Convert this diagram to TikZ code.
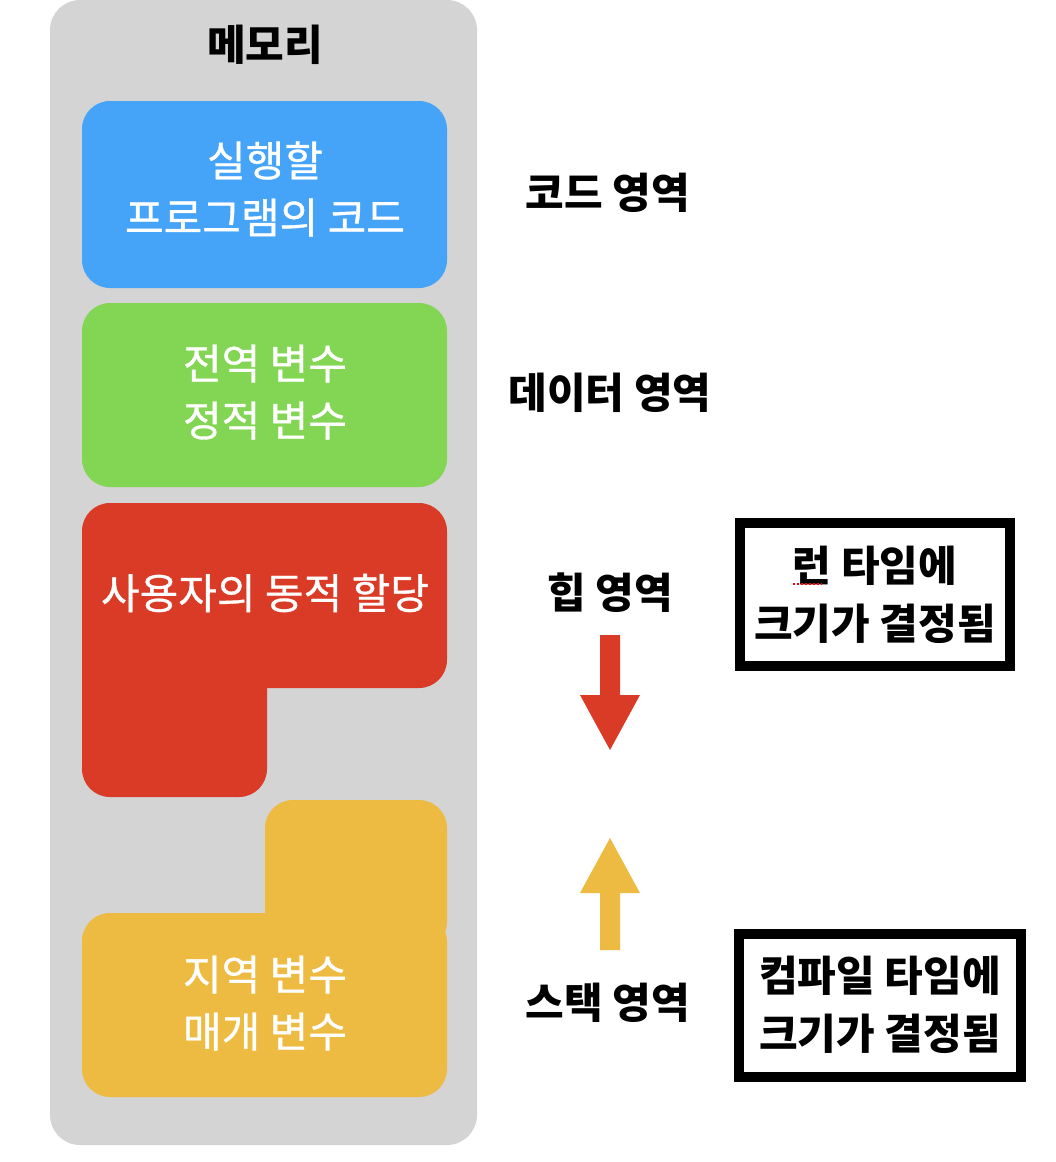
\documentclass[tikz,border=0pt]{standalone}
\usepackage{fontspec}
\setmainfont{Noto Sans CJK KR}
\newfontfamily\medfont[FakeBold=0.8]{Noto Sans CJK KR}
\usetikzlibrary{arrows.meta}
\definecolor{memgray}{HTML}{D4D4D4}
\definecolor{codeblue}{HTML}{45A3F8}
\definecolor{datagreen}{HTML}{83D554}
\definecolor{heapred}{HTML}{DA3B26}
\definecolor{stackyellow}{HTML}{EEBB42}
\tikzset{
  seg/.style={rounded corners=28pt},
  intext/.style={text=white, font=\medfont\fontsize{42}{57}\selectfont, align=center},
  lbl/.style={font=\fontsize{42}{50}\selectfont\bfseries, text=black},
  notebox/.style={draw=black, line width=10pt, fill=white, minimum width=270pt, minimum height=143pt, align=center, font=\fontsize{42}{58}\selectfont\bfseries, inner sep=0pt},
}
\begin{document}
\begin{tikzpicture}[x=1pt,y=-1pt]
\useasboundingbox (0,0) rectangle (1056,1162);
% memory background
\fill[memgray, rounded corners=30pt] (50,0) rectangle (477,1145);
\node[lbl] (mem) at (265,45) {메모리};
% code segment
\fill[codeblue, seg] (82,101) rectangle (447,288);
\node[intext] (codetxt) at (265,189) {실행할\\프로그램의 코드};
% data segment
\fill[datagreen, seg] (82,303) rectangle (447,487);
\node[intext] (datatxt) at (265,392) {전역 변수\\정적 변수};
% heap segment
\fill[heapred, seg] (82,503) rectangle (447,688);
\fill[heapred, seg] (82,600) rectangle (267,797);
\node[intext] (heaptxt) at (265,593) {사용자의 동적 할당};
% stack segment
\fill[stackyellow, seg] (265,800) rectangle (447,950);
\fill[stackyellow, seg] (82,913) rectangle (447,1097);
\node[intext] (stacktxt) at (265,1003) {지역 변수\\매개 변수};
% region labels
\node[lbl] (codelbl) at (608,193) {코드 영역};
\node[lbl] (datalbl) at (610,393) {데이터 영역};
\node[lbl] (heaplbl) at (610,593) {힙 영역};
\node[lbl] (stacklbl) at (608,1003) {스택 영역};
% growth arrows
\fill[heapred] (600,635) -- (620,635) -- (620,695) -- (640,695) -- (610,750) -- (580,695) -- (600,695) -- cycle;
\fill[stackyellow] (600,950) -- (620,950) -- (620,893) -- (640,893) -- (610,838) -- (580,893) -- (600,893) -- cycle;
% note boxes
\node[notebox] (runtime) at (875,594.5) {런 타임에\\크기가 결정됨};
\draw[red, line width=2pt, dotted] (793,584) -- (822,584);
\node[notebox, minimum width=282pt] (compile) at (880,1005) {컴파일 타임에\\크기가 결정됨};
\end{tikzpicture}
\end{document}
